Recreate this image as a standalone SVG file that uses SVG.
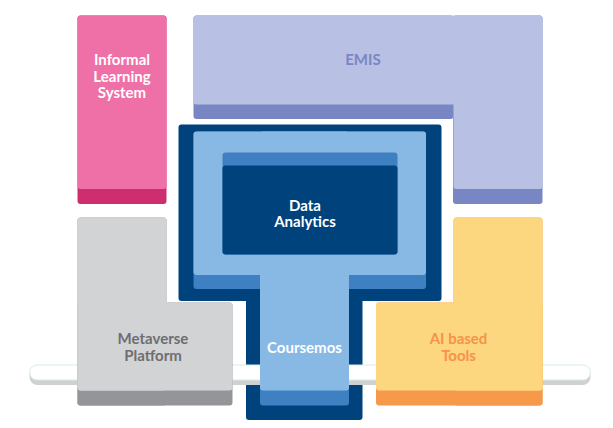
<svg xmlns="http://www.w3.org/2000/svg" width="613" height="428" viewBox="0 0 613 428">
<style>
text{font-family:Lato,"Noto Sans","Liberation Sans",sans-serif;font-weight:700;font-size:15px;text-anchor:middle}
.w{fill:#ffffff}
</style>
<rect width="613" height="428" fill="#ffffff"/>
<g id="informal-learning-system">
<rect x="77.5" y="15.5" width="89" height="188.5" rx="3" fill="#cf2e6e"/>
<rect x="77.5" y="15.5" width="89" height="173.5" rx="3" fill="#ef70a7"/>
<text class="w" x="122" y="65">Informal</text>
<text class="w" x="122" y="81.5">Learning</text>
<text class="w" x="122" y="98">System</text>
</g>
<g id="emis">
<rect x="193.5" y="15.5" width="260" height="103.5" rx="3" fill="#7887c4"/>
<rect x="453" y="15.5" width="89.5" height="188.5" rx="3" fill="#7887c4"/>
<rect x="193.5" y="15.5" width="349" height="89" rx="3" fill="#b8c1e3"/>
<rect x="453.5" y="15.5" width="89" height="173.5" rx="3" fill="#b8c1e3"/>
<text x="363" y="65" fill="#7b86c3">EMIS</text>
</g>
<g id="coursemos">
<path d="M181.5,124.5 H438.5 Q441.5,124.5 441.5,127.5 V298 Q441.5,301 438.5,301 H362.5 V417 Q362.5,420 359.5,420 H249 Q246,420 246,417 V301 H181.5 Q178.5,301 178.5,298 V127.5 Q178.5,124.5 181.5,124.5 Z" fill="#00427b"/>
</g>
<g id="bar">
<rect x="29.5" y="366" width="561" height="19" rx="8" fill="#cfd0d2"/>
<rect x="29.5" y="365" width="561" height="15" rx="7.5" fill="#ffffff" stroke="#d6ebea" stroke-width="1"/>
</g>
<g id="coursemos-inner">
<rect x="193.5" y="131.5" width="232.5" height="157.5" rx="3" fill="#3f80c2"/>
<rect x="260" y="275" width="89" height="130.5" rx="3" fill="#3f80c2"/>
<rect x="193.5" y="131.5" width="232.5" height="143.5" rx="3" fill="#88b9e5"/>
<rect x="260" y="131.5" width="89" height="259" rx="3" fill="#88b9e5"/>
<text class="w" x="304.5" y="353">Coursemos</text>
</g>
<g id="data-analytics">
<rect x="222.5" y="152.5" width="175" height="102" rx="3" fill="#3f80c2"/>
<rect x="222.5" y="165.5" width="175" height="89" rx="3" fill="#00427b"/>
<text class="w" x="305" y="210.5">Data</text>
<text class="w" x="305" y="227">Analytics</text>
</g>
<g id="metaverse-platform">
<rect x="77.5" y="217.5" width="89" height="188" rx="3" fill="#939598"/>
<rect x="77.5" y="302.5" width="155" height="103" rx="3" fill="#939598"/>
<rect x="77.5" y="217.5" width="89" height="173" rx="3" fill="#d2d3d5"/>
<rect x="77.5" y="302.5" width="155" height="88" rx="3" fill="#d2d3d5"/>
<text x="153" y="344" fill="#6d6e71">Metaverse</text>
<text x="153" y="360.5" fill="#6d6e71">Platform</text>
</g>
<g id="ai-based-tools">
<rect x="453.5" y="217.5" width="89" height="188" rx="3" fill="#f6994b"/>
<rect x="376" y="302.5" width="166.5" height="103" rx="3" fill="#f6994b"/>
<rect x="453.5" y="217.5" width="89" height="173" rx="3" fill="#fdd680"/>
<rect x="376" y="302.5" width="166.5" height="88" rx="3" fill="#fdd680"/>
<text x="458.5" y="344" fill="#f7924a">AI based</text>
<text x="458.5" y="360.5" fill="#f7924a">Tools</text>
</g>
</svg>
